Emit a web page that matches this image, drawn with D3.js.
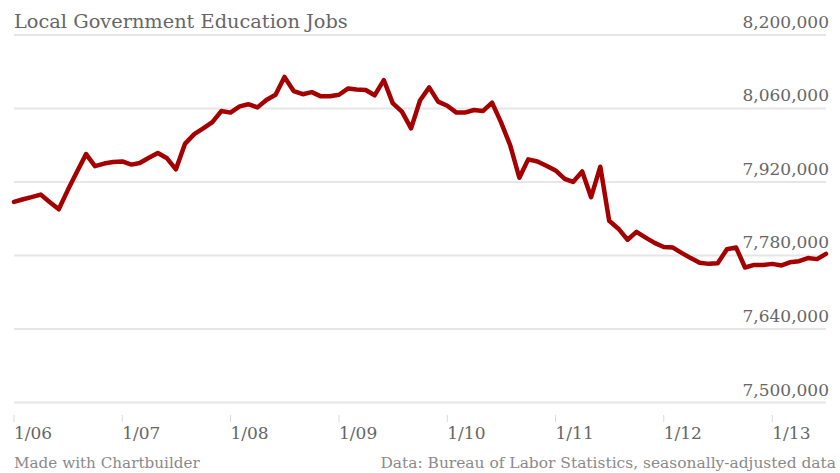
<!DOCTYPE html>
<html>
<head>
<meta charset="utf-8">
<script src="https://cdn.jsdelivr.net/npm/d3@7"></script>
<style>
  html, body { margin: 0; padding: 0; background: #fff; }
  svg { display: block; }
  text { font-family: "DejaVu Serif", "Liberation Serif", serif; }
</style>
</head>
<body>
<svg id="chart" width="840" height="473"></svg>
<script>
// ---- Data (thousands of jobs, monthly Jan 2006 – Jul 2013) ----
const startMonth = "2006-01";
const values = [
  7882, 7887, 7891, 7896, 7882, 7868, 7904, 7939, 7973, 7950, 7955, 7958,
  7959, 7953, 7956, 7966, 7975, 7965, 7944, 7993, 8011, 8022, 8034, 8055,
  8052, 8064, 8068, 8062, 8076, 8086, 8120, 8093, 8087, 8091, 8083, 8083,
  8086, 8098, 8096, 8095, 8085, 8114, 8070, 8054, 8022, 8075, 8100, 8073,
  8065, 8052, 8052, 8057, 8055, 8071, 8034, 7990, 7928, 7963, 7959, 7951,
  7942, 7926, 7920, 7940, 7891, 7949, 7846, 7831, 7810, 7825, 7814, 7804,
  7796, 7795, 7785, 7775, 7766, 7764, 7765, 7792, 7795, 7757, 7762, 7762,
  7764, 7761, 7767, 7769, 7775, 7773, 7783
];
const yTicks = [7500000, 7640000, 7780000, 7920000, 8060000, 8200000];
const xTickLabels = ["1/06", "1/07", "1/08", "1/09", "1/10", "1/11", "1/12", "1/13"];
const title = "Local Government Education Jobs";
const creditLeft = "Made with Chartbuilder";
const creditRight = "Data: Bureau of Labor Statistics, seasonally-adjusted data";

const parse = d3.timeParse("%Y-%m");
const t0 = parse(startMonth);
const data = values.map((v, i) => ({ date: d3.timeMonth.offset(t0, i), value: v * 1000 }));
const xTickDates = xTickLabels.map((s, i) => d3.timeYear.offset(t0, i));

const svg = d3.select("#chart");

const x = d3.scaleTime()
  .domain([t0, d3.timeYear.offset(t0, 7)])
  .range([14, 772.3]);
const y = d3.scaleLinear()
  .domain([7500000, 8200000])
  .range([402.5, 34.9]);

const gridColor = "#e6e6e6";
const textColor = "#666";

// gridlines
svg.append("g").selectAll("line")
  .data(yTicks)
  .join("line")
  .attr("x1", 14).attr("x2", 826)
  .attr("y1", d => y(d)).attr("y2", d => y(d))
  .attr("stroke", gridColor)
  .attr("stroke-width", 2);

// y labels
const fmt = d3.format(",");
svg.append("g").selectAll("text")
  .data(yTicks)
  .join("text")
  .attr("x", 829)
  .attr("y", d => y(d) - 7)
  .attr("text-anchor", "end")
  .attr("fill", textColor)
  .attr("font-size", 17)
  .text(d => fmt(d));

// x axis ticks
const xg = svg.append("g");
xg.selectAll("line")
  .data(xTickDates)
  .join("line")
  .attr("x1", d => x(d)).attr("x2", d => x(d))
  .attr("y1", 415).attr("y2", 422)
  .attr("stroke", "#d8d8d8")
  .attr("stroke-width", 1);
xg.selectAll("text")
  .data(xTickDates)
  .join("text")
  .attr("x", d => x(d))
  .attr("y", 439)
  .attr("fill", textColor)
  .attr("font-size", 17)
  .text((d, i) => xTickLabels[i]);

// line
const line = d3.line()
  .x(d => x(d.date))
  .y(d => y(d.value));
svg.append("path")
  .datum(data)
  .attr("d", line)
  .attr("fill", "none")
  .attr("stroke", "#a50000")
  .attr("stroke-width", 4.5)
  .attr("stroke-linejoin", "round")
  .attr("stroke-linecap", "round");

// fit helper
function fit(sel, target) {
  const w = sel.node().getComputedTextLength();
  const fs = parseFloat(sel.attr("font-size"));
  sel.attr("font-size", fs * target / w);
}

// title
const t = svg.append("text")
  .attr("x", 14).attr("y", 28)
  .attr("fill", textColor)
  .attr("font-size", 18)
  .text(title);
fit(t, 334);

// credits
const cl = svg.append("text")
  .attr("x", 14).attr("y", 468)
  .attr("fill", "#8a8a8a")
  .attr("font-size", 15)
  .text(creditLeft);
fit(cl, 186);
const cr = svg.append("text")
  .attr("x", 836).attr("y", 468)
  .attr("text-anchor", "end")
  .attr("fill", "#8a8a8a")
  .attr("font-size", 15)
  .text(creditRight);
fit(cr, 456);
</script>
</body>
</html>
